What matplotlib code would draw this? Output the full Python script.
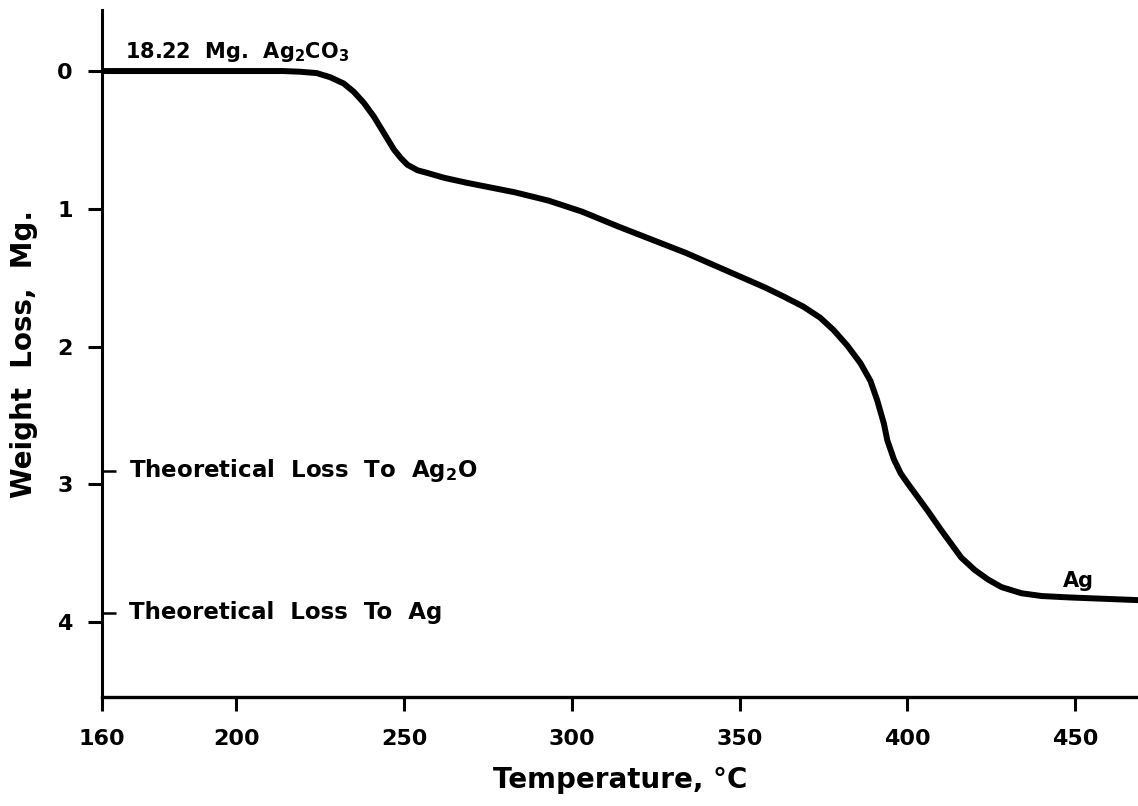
import matplotlib.pyplot as plt

# weight loss curve
temp = [160, 180, 200, 214, 219, 224, 228, 232, 235, 238, 241, 243, 245, 247, 249, 251,
        254, 257, 262, 268.5, 283, 293, 303, 314, 334, 357.5, 363, 369, 374, 378, 382,
        386, 389, 391, 393, 394, 396, 398, 400, 403, 406, 410, 416, 420, 424, 428, 434,
        440, 448, 469]
loss = [0, 0, 0, 0, 0.005, 0.015, 0.045, 0.09, 0.15, 0.23, 0.33, 0.41, 0.49, 0.57, 0.63, 0.68,
        0.72, 0.74, 0.775, 0.81, 0.88, 0.94, 1.02, 1.13, 1.32, 1.57, 1.635, 1.71, 1.79, 1.88, 1.99,
        2.12, 2.25, 2.39, 2.56, 2.68, 2.82, 2.92, 2.99, 3.09, 3.19, 3.33, 3.53, 3.62, 3.69, 3.745, 3.79,
        3.81, 3.82, 3.84]

xticks = [160, 200, 250, 300, 350, 400, 450]
yticks = [0, 1, 2, 3, 4]
theo_loss = [2.90, 3.93]
theo_text = [r'Theoretical  Loss  To  Ag$_2$O', 'Theoretical  Loss  To  Ag']

plt.rcParams['font.family'] = 'DejaVu Sans'
plt.rcParams['font.weight'] = 'bold'
plt.rcParams['mathtext.default'] = 'bf'

fig = plt.figure(figsize=(11.38, 8.06), dpi=100)
ax = fig.add_axes([0.0896, 0.1352, 0.9104, 0.8524])

ax.plot(temp, loss, color='black', lw=4.3, solid_joinstyle='round', solid_capstyle='round')

ax.set_xlim(160, 468.7)
ax.set_ylim(4.543, -0.443)

ax.spines['top'].set_visible(False)
ax.spines['right'].set_visible(False)
ax.spines['left'].set_linewidth(2.2)
ax.spines['bottom'].set_linewidth(2.4)

ax.set_xticks(xticks)
ax.set_xticklabels([str(t) for t in xticks])
ax.set_yticks(yticks)
ax.set_yticklabels([str(t) for t in yticks])
ax.tick_params(which='major', direction='out', length=10, width=2.2, labelsize=16, pad=11)
ax.tick_params(axis='x', pad=13)

# short inside ticks for the theoretical losses
ax.set_yticks(theo_loss, minor=True)
ax.tick_params(axis='y', which='minor', direction='in', length=10, width=1.8)
for yv, txt in zip(theo_loss, theo_text):
    ax.text(168, yv, txt, fontsize=16.5, fontweight='bold', va='center', ha='left')

ax.text(167, -0.14, r'18.22  Mg.  Ag$_2$CO$_3$', fontsize=15, fontweight='bold', va='center')
ax.text(451, 3.70, 'Ag', fontsize=15, fontweight='bold', ha='center', va='center')

ax.set_xlabel('Temperature, °C', fontsize=20, fontweight='bold', labelpad=12)
ax.set_ylabel('Weight  Loss,  Mg.', fontsize=20, fontweight='bold', labelpad=14)

fig.savefig('out.png', dpi=100)
